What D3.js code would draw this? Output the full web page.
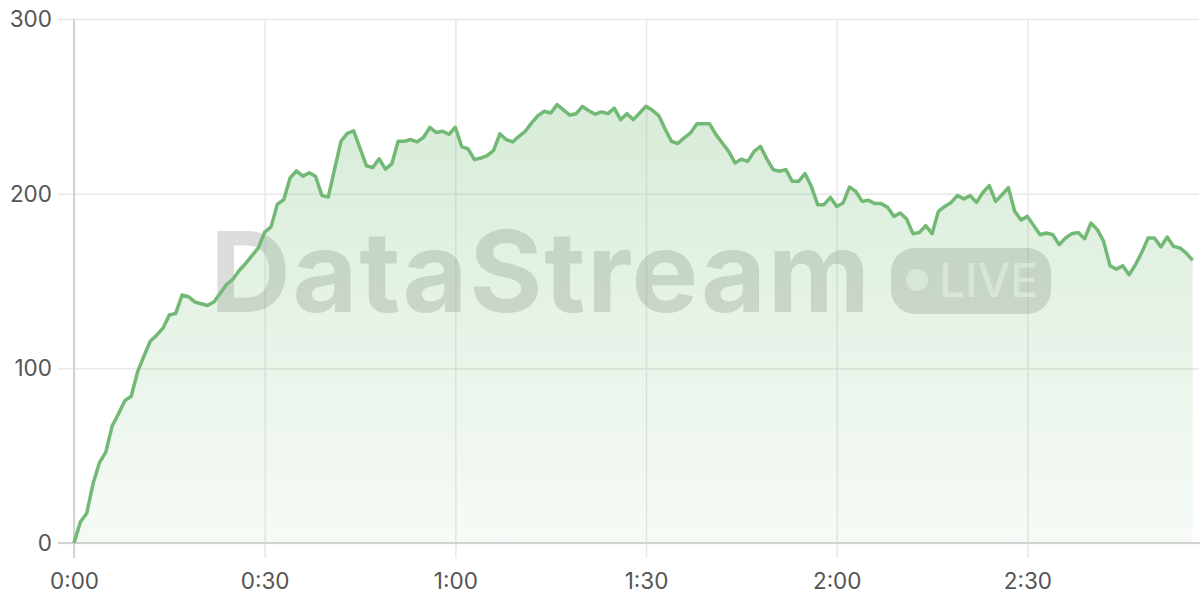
<!DOCTYPE html>
<html>

<head>
  <title>DataStream live</title>
  <script src="https://d3js.org/d3.v7.min.js"></script>
  <style>
    body { margin: 0; background: #fff; }
    text { font-family: Inter, "Liberation Sans", sans-serif; }
    .gridlines line { stroke: #e8e8e8; stroke-width: 1.5; }
    .gridlines .domain { stroke: none; }
    .axis .domain { stroke: none; }
    .axis text { fill: #555; font-size: 22.5px; }
    .axis line { stroke: none; }
  </style>
</head>

<body>
  <svg id="svg" width="1200" height="600"></svg>
  <script>
    // viewers per second, one sample each second starting at 0:00
    const viewers = [
      0, 12, 17, 34, 46, 52, 67, 74, 81.5, 84,
      98, 107, 115.5, 119, 123, 130.5, 131.5, 142, 141, 138,
      137, 136, 138, 143, 148, 151, 156, 160, 164.5, 169,
      178, 181, 194, 196.5, 209, 213, 210, 212, 210, 199,
      198, 214, 230, 234.5, 236, 226, 216, 215, 220, 214,
      217, 230, 230, 231, 229.6, 232.3, 238, 235, 235.7, 234,
      238, 227, 225.6, 219.5, 220.4, 221.8, 224.6, 234.2, 231, 229.6,
      232.8, 235.7, 240.5, 244.7, 247.2, 246.2, 251, 248, 245, 245.8,
      250, 247.5, 245.5, 246.8, 245.8, 249, 242.4, 245.8, 242.4, 246.2,
      250, 247.7, 244.7, 237, 230, 228.7, 232, 234.8, 240, 240,
      240, 233.8, 229, 224.2, 217.6, 219.7, 218.5, 224.2, 227.1, 219.9,
      213.8, 212.8, 213.8, 207.1, 207.1, 211.5, 204.2, 193.7, 193.7, 197.9,
      192.7, 194.7, 203.8, 201.3, 195.6, 196.2, 194.3, 194.3, 192.2, 187,
      188.9, 185.5, 177.1, 177.8, 181.7, 177.1, 189.9, 192.7, 195, 199,
      197, 198.9, 195, 200.7, 204.6, 195.6, 199.4, 203.5, 189.9, 185,
      187, 181.7, 176.5, 177.5, 176.5, 170.8, 174.6, 177.1, 177.8, 174.2,
      183.2, 179.4, 172.7, 158.7, 156.8, 158.7, 153.6, 159.3, 166.4, 174.6,
      174.6, 169.5, 175.2, 169.8, 168.9, 166, 161.8
    ];
    const xTicks = [0, 30, 60, 90, 120, 150];
    const xTickLabels = ["0:00", "0:30", "1:00", "1:30", "2:00", "2:30"];
    const yTicks = [0, 100, 200, 300];
    const watermark = "DataStream";
    const badgeLabel = "LIVE";

    const svg = d3.select("#svg");
    const width = +svg.attr("width");
    const height = +svg.attr("height");
    const margins = { top: 19, right: 1, bottom: 57, left: 74 };
    const chartWidth = width - margins.left - margins.right;
    const chartHeight = height - margins.top - margins.bottom;

    const data = viewers.map((v, i) => ({ t: i, v: v }));

    // ************************ Scales ************************
    const xScale = d3.scaleLinear().domain([0, 177]).range([0, chartWidth]);
    const yScale = d3.scaleLinear().domain([0, 300]).range([chartHeight, 0]);

    const chartArea = svg.append("g")
      .attr("transform", `translate(${margins.left},${margins.top})`);

    // ************************ Gridlines ************************
    const gridlines = chartArea.append("g").attr("class", "gridlines");
    gridlines.append("g")
      .call(d3.axisLeft(yScale).tickValues(yTicks).tickSize(-chartWidth - 16).tickFormat(""))
      .attr("transform", "translate(-16,0)");
    gridlines.append("g")
      .attr("transform", `translate(0,${chartHeight + 15})`)
      .call(d3.axisBottom(xScale).tickValues(xTicks).tickSize(-chartHeight - 15).tickFormat(""));

    // ************************ Watermark ************************
    const wm = chartArea.append("g").attr("class", "watermark");
    wm.append("text")
      .attr("x", 136)
      .attr("y", 293)
      .attr("font-size", 112)
      .attr("font-weight", 700)
      .attr("textLength", 660)
      .attr("lengthAdjust", "spacing")
      .attr("fill", "#8c8c8c")
      .attr("fill-opacity", 0.3)
      .text(watermark);
    wm.append("rect")
      .attr("x", 817).attr("y", 229)
      .attr("width", 160).attr("height", 66)
      .attr("rx", 24)
      .attr("fill", "#8c8c8c")
      .attr("fill-opacity", 0.3);
    wm.append("circle")
      .attr("cx", 843).attr("cy", 261).attr("r", 11)
      .attr("fill", "#fff").attr("fill-opacity", 0.6);
    wm.append("text")
      .attr("x", 865).attr("y", 278)
      .attr("font-size", 46)
      .attr("font-weight", 500)
      .attr("fill", "#fff")
      .attr("fill-opacity", 0.6)
      .text(badgeLabel);

    // ************************ Area + line ************************
    const defs = svg.append("defs");
    const grad = defs.append("linearGradient")
      .attr("id", "fillGrad")
      .attr("gradientUnits", "userSpaceOnUse")
      .attr("x1", 0).attr("y1", yScale(251))
      .attr("x2", 0).attr("y2", yScale(0));
    grad.append("stop").attr("offset", "0%").attr("stop-color", "#6cb86f").attr("stop-opacity", 0.27);
    grad.append("stop").attr("offset", "100%").attr("stop-color", "#6cb86f").attr("stop-opacity", 0.06);

    const areaGenerator = d3.area()
      .x(d => xScale(d.t))
      .y0(yScale(0))
      .y1(d => yScale(d.v));
    const lineGenerator = d3.line()
      .x(d => xScale(d.t))
      .y(d => yScale(d.v));

    chartArea.append("path")
      .datum(data)
      .attr("fill", "url(#fillGrad)")
      .attr("d", areaGenerator);

    // ************************ Axes ************************
    const axis = chartArea.append("g").attr("class", "axis");
    // axis lines drawn over the fill
    axis.append("line")
      .attr("x1", -16).attr("x2", chartWidth + 1)
      .attr("y1", chartHeight).attr("y2", chartHeight)
      .style("stroke", "#d2d2d2").style("stroke-width", 2);
    axis.append("line")
      .attr("x1", 0).attr("x2", 0)
      .attr("y1", 0).attr("y2", chartHeight + 15)
      .style("stroke", "#d2d2d2").style("stroke-width", 2);

    axis.append("g")
      .attr("transform", "translate(-22,0)")
      .call(d3.axisLeft(yScale).tickValues(yTicks).tickSize(0).tickPadding(0))
      .selectAll("text").attr("dy", "0.34em");
    axis.append("g")
      .attr("transform", `translate(0,${chartHeight + 26})`)
      .call(d3.axisBottom(xScale).tickValues(xTicks).tickSize(0).tickPadding(0)
        .tickFormat((d, i) => xTickLabels[i]))
      .selectAll("text").attr("dy", "0.9em");

    chartArea.append("path")
      .datum(data)
      .attr("fill", "none")
      .attr("stroke", "#72b975")
      .attr("stroke-width", 3.5)
      .attr("stroke-linejoin", "round")
      .attr("d", lineGenerator);
  </script>
</body>

</html>
